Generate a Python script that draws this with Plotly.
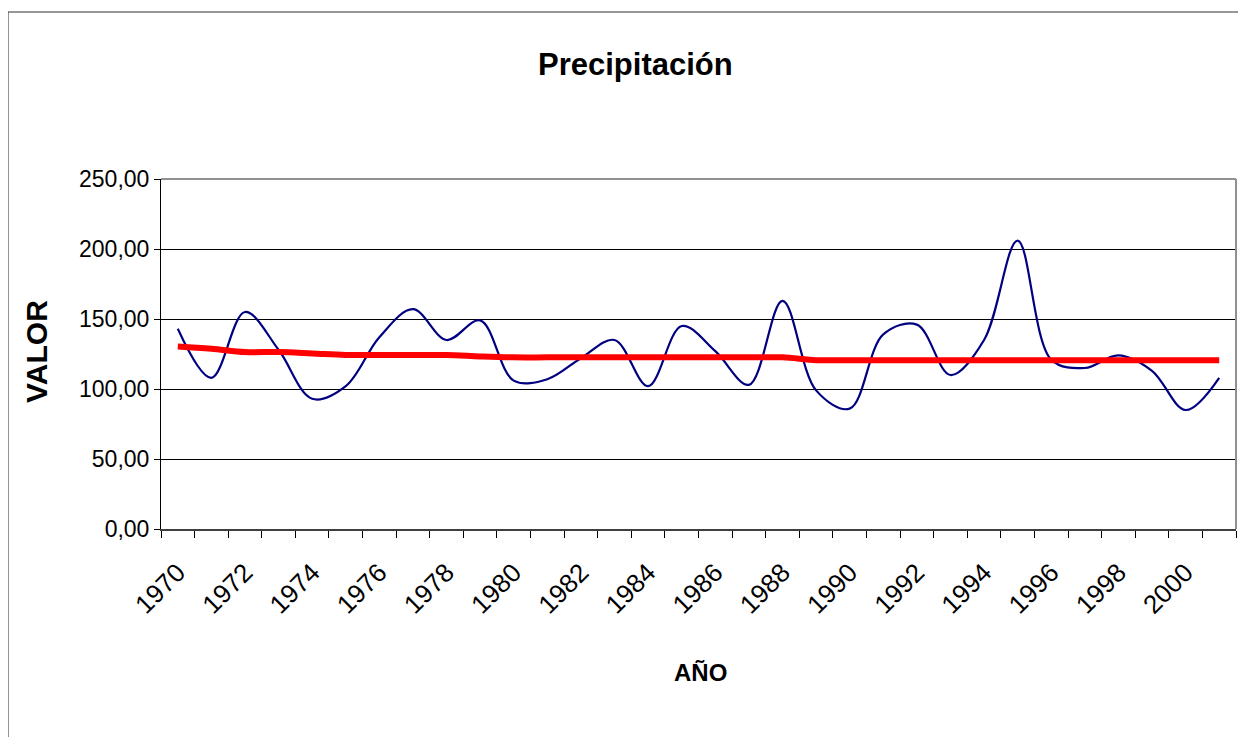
import plotly.graph_objects as go

# ---- data ----
years = list(range(1970, 2002))
precipitacion = [143, 108, 155, 128, 93, 102, 137, 157, 135, 149,
                 106, 107, 122, 135, 102, 145, 127, 103, 163, 99,
                 86, 139, 146, 110, 135, 206, 121, 115, 124, 113,
                 85, 108]
promedio = [130.4, 128.8, 126.4, 126.4, 125.4, 124.3, 124.3, 124.3, 124.3, 123.3,
            122.6, 122.6, 122.6, 122.6, 122.6, 122.6, 122.6, 122.6, 122.6,
            120.6, 120.6, 120.6, 120.6, 120.6, 120.6, 120.6, 120.6, 120.6,
            120.6, 120.6, 120.6, 120.6]
x_labels = [str(y) for y in range(1970, 2001, 2)]
y_ticks = [0, 50, 100, 150, 200, 250]
y_tick_text = ["0,00", "50,00", "100,00", "150,00", "200,00", "250,00"]
titulo = "Precipitación"
x_titulo = "AÑO"
y_titulo = "VALOR"

FONT = "Liberation Sans, Arial, sans-serif"

fig = go.Figure()
fig.add_trace(go.Scatter(x=years, y=precipitacion, mode="lines",
                         line=dict(color="#000080", width=2.2, shape="spline", smoothing=1),
                         name="Precipitación"))
fig.add_trace(go.Scatter(x=years, y=promedio, mode="lines",
                         line=dict(color="#FF0000", width=6, shape="spline", smoothing=1),
                         name="Promedio"))

boundaries = [y - 0.5 for y in years] + [years[-1] + 0.5]

fig.update_layout(
    width=1238, height=729,
    margin=dict(l=153, r=10, t=171, b=208, pad=0),
    paper_bgcolor="white", plot_bgcolor="white",
    showlegend=False,
    font=dict(family=FONT, color="black"),
    xaxis=dict(
        range=[years[0] - 0.5, years[-1] + 0.5],
        tickmode="array", tickvals=[int(l) for l in x_labels], ticktext=x_labels,
        tickangle=-45, ticks="", showgrid=False, zeroline=False,
        showline=True, linecolor="#404040", linewidth=2,
        tickfont=dict(family=FONT, size=26, color="black"),
        ticklabelstandoff=16,
        minor=dict(tickmode="array", tickvals=boundaries, ticks="outside",
                   ticklen=7, tickwidth=1, tickcolor="black", showgrid=False),
    ),
    yaxis=dict(
        range=[0, 250], tickmode="array", tickvals=y_ticks, ticktext=y_tick_text,
        ticks="outside", ticklen=6, tickcolor="black", tickwidth=1,
        showgrid=True, gridcolor="black", gridwidth=1, zeroline=False,
        showline=True, linecolor="black", linewidth=1,
        tickfont=dict(family=FONT, size=23, color="black"),
    ),
    shapes=[
        dict(type="line", xref="paper", yref="paper", x0=0, x1=1, y0=1, y1=1,
             line=dict(color="#909090", width=2)),
        dict(type="line", xref="paper", yref="paper", x0=1, x1=1, y0=0, y1=1,
             line=dict(color="#909090", width=2)),
        dict(type="line", xref="paper", yref="paper", x0=-0.1423, x1=1.2, y0=1.4771, y1=1.4771,
             line=dict(color="#303030", width=1)),
        dict(type="line", xref="paper", yref="paper", x0=-0.1423, x1=-0.1423, y0=1.4771, y1=-0.7,
             line=dict(color="#303030", width=1)),
    ],
    annotations=[
        dict(text=titulo, xref="paper", yref="paper", x=0.441, y=1.326,
             xanchor="center", yanchor="middle", showarrow=False,
             font=dict(family=FONT, size=31, color="black", weight="bold")),
        dict(text=x_titulo, xref="paper", yref="paper", x=0.502, y=-0.409,
             xanchor="center", yanchor="middle", showarrow=False,
             font=dict(family=FONT, size=24, color="black", weight="bold")),
        dict(text=y_titulo, xref="paper", yref="paper", x=-0.1153, y=0.506,
             xanchor="center", yanchor="middle", showarrow=False, textangle=-90,
             font=dict(family=FONT, size=30, color="black", weight="bold")),
    ],
)

fig.write_html("out.html")
